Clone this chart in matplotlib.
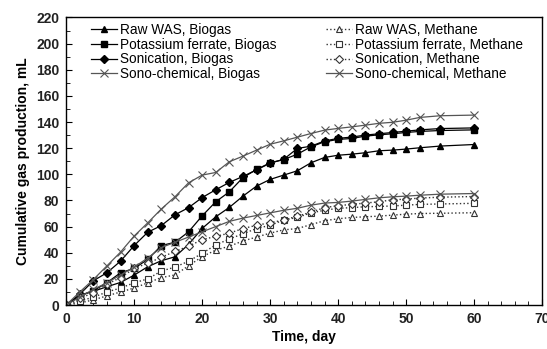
import matplotlib.pyplot as plt
from matplotlib.ticker import MultipleLocator

plt.rcParams['font.family'] = ['Liberation Sans', 'DejaVu Sans']

days = [0, 2, 4, 6, 8, 10, 12, 14, 16, 18, 20, 22, 24, 26, 28, 30, 32, 34, 36,
        38, 40, 42, 44, 46, 48, 50, 52, 55, 60]

# biogas, mL
raw_biogas = [0, 7.6, 10.5, 14, 17.3, 22.9, 29.3, 33.9, 36.9, 46.4, 58.6, 67.5, 74.7, 83.3, 91,
              96.1, 99.4, 102.7, 108.8, 112.9, 114.6, 115.4, 116.5, 118, 118.5, 119.3, 120.3, 121.6, 122.8]
kf_biogas = [0, 7, 10.9, 17.1, 24.7, 28, 34.9, 45.5, 48, 56, 68.2, 79, 86.6, 97.5, 103.7,
             108.8, 111.3, 115.4, 121, 124.9, 126.7, 127.4, 129.2, 130.2, 131, 132, 132.8, 133.5, 134]
son_biogas = [0, 8.2, 18.6, 24.7, 33.6, 45.5, 55.7, 60.8, 69, 74.5, 82.2, 88.2, 93.8, 98.4, 103.4,
              108.5, 111.5, 119.8, 121.5, 125.5, 127.5, 128.5, 130, 131, 132, 133, 134, 135, 135.5]
sc_biogas = [0, 10, 19.5, 30, 40.5, 52.8, 62.9, 73.5, 82.8, 93.5, 99.4, 101.4, 109.6, 113.9, 118.5,
             123, 125.6, 128.4, 131.2, 133.8, 135.1, 136.3, 137.6, 139, 139.8, 141.4, 143.5, 144.8, 145.3]

# methane, mL
raw_methane = [0, 1.5, 4, 7, 10, 13, 17, 21, 23, 30, 37, 42, 45, 49, 52,
               55, 57.5, 58.5, 61.5, 64.5, 66, 67, 67.5, 68, 68.8, 69.5, 70, 70.2, 70.6]
kf_methane = [0, 3, 6, 10, 13, 17, 20, 26, 29, 33.5, 39.5, 46, 50.5, 54.5, 58.5,
              61, 65, 67, 70.5, 72.5, 74, 74.5, 75.2, 75.4, 75.8, 76.4, 77, 77.3, 77.8]
son_methane = [0, 5, 9.5, 16, 21, 28, 32, 36.5, 41, 45, 50, 52.5, 55, 58.5, 61,
               63, 65, 68, 71, 74.5, 76, 77, 78, 79, 80.5, 81, 81.8, 82.5, 83]
sc_methane = [0, 6, 12, 17, 23, 29, 36, 44, 48, 52, 56, 60, 64, 66.5, 68.5,
              70.5, 72.5, 74, 76.4, 78, 78.5, 79.5, 80.8, 82, 82.8, 83.3, 84, 84.8, 85.3]

fig, ax = plt.subplots(figsize=(5.47, 3.49), dpi=100)
fig.subplots_adjust(left=0.121, right=0.991, top=0.950, bottom=0.126)

gray = '#555555'
ms = 4.5
h1, = ax.plot(days, raw_biogas, '-', color='black', lw=0.9, marker='^', ms=ms, label='Raw WAS, Biogas')
h2, = ax.plot(days, kf_biogas, '-', color='black', lw=0.9, marker='s', ms=ms, label='Potassium ferrate, Biogas')
h3, = ax.plot(days, son_biogas, '-', color='black', lw=0.9, marker='D', ms=3.8, label='Sonication, Biogas')
h4, = ax.plot(days, sc_biogas, '-', color=gray, lw=0.9, marker='x', ms=6, mew=0.8, label='Sono-chemical, Biogas')

h5, = ax.plot(days, raw_methane, ':', color='#333333', lw=1.0, marker='^', ms=ms, mfc='white', mec='#333333',
              mew=0.8, label='Raw WAS, Methane')
h6, = ax.plot(days, kf_methane, ':', color='#333333', lw=1.0, marker='s', ms=ms, mfc='white', mec='#333333',
              mew=0.8, label='Potassium ferrate, Methane')
h7, = ax.plot(days, son_methane, ':', color='#333333', lw=1.0, marker='D', ms=3.8, mfc='white', mec='#333333',
              mew=0.8, label='Sonication, Methane')
h8, = ax.plot(days, sc_methane, '-', color=gray, lw=0.9, marker='x', ms=6, mew=0.8, label='Sono-chemical, Methane')

ax.set_xlim(0, 70)
ax.set_ylim(0, 220)
ax.xaxis.set_major_locator(MultipleLocator(10))
ax.xaxis.set_minor_locator(MultipleLocator(2))
ax.yaxis.set_major_locator(MultipleLocator(20))
ax.yaxis.set_minor_locator(MultipleLocator(10))
ax.tick_params(which='both', direction='in', top=False, right=False, labelsize=10, pad=5)
ax.tick_params(which='major', length=4)
ax.tick_params(which='minor', length=3)
for lab in ax.get_xticklabels() + ax.get_yticklabels():
    lab.set_fontweight('bold')
    lab.set_color('#222222')

for s in ax.spines.values():
    s.set_linewidth(1.0)

ax.set_xlabel('Time, day', fontsize=10, fontweight='bold', labelpad=3)
ax.set_ylabel('Cumulative gas production, mL', fontsize=10, fontweight='bold', labelpad=4)

# two legends, biogas on the left, methane on the right
leg_kw = dict(loc='upper left', frameon=False, fontsize=9.8, handlelength=1.9,
              handletextpad=0.2, labelspacing=0.05, borderpad=0, borderaxespad=0)
leg1 = fig.legend(handles=[h1, h2, h3, h4], bbox_to_anchor=(91 / 547, 1 - 23 / 349), **leg_kw)
leg2 = fig.legend(handles=[h5, h6, h7, h8], bbox_to_anchor=(326 / 547, 1 - 23 / 349), **leg_kw)

fig.savefig('out.png', dpi=100)
